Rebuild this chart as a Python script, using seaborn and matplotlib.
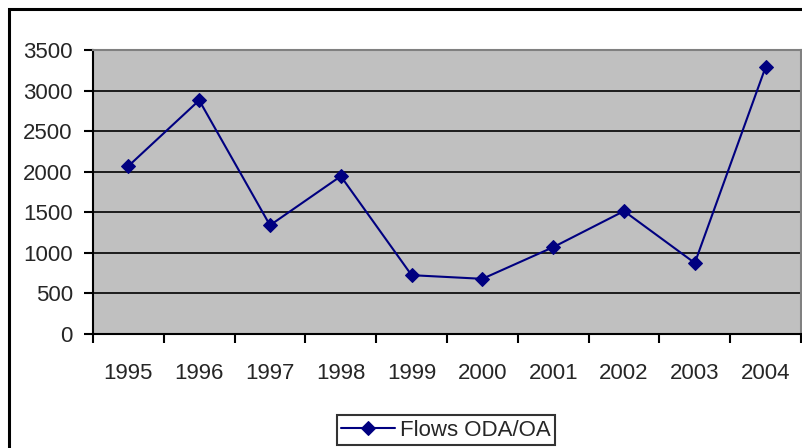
import numpy as np
import matplotlib.pyplot as plt
import matplotlib.patches as patches
import pandas as pd
import seaborn as sns

years = ["1995", "1996", "1997", "1998", "1999", "2000", "2001", "2002", "2003", "2004"]
flows = [2070, 2880, 1340, 1945, 725, 680, 1070, 1515, 875, 3290]
yticks = [0, 500, 1000, 1500, 2000, 2500, 3000, 3500]

sns.set_style("white")
plt.rcParams['font.family'] = ['Liberation Sans', 'DejaVu Sans']

df = pd.DataFrame({"year": years, "Flows ODA/OA": flows})

fig = plt.figure(figsize=(8.02, 4.48), dpi=100)
W, H = 802, 448
ax = fig.add_axes([93 / W, (H - 334) / H, (801 - 93) / W, (334 - 50) / H])
ax.set_facecolor("#c0c0c0")

# outer chart border (cut off at right and bottom)
fig.patches.append(patches.Rectangle((9 / W, -0.1), 1.2, (H - 9) / H + 0.1,
                                     transform=fig.transFigure, fill=False,
                                     edgecolor="black", linewidth=2.2))

for v in yticks[1:-1]:
    ax.axhline(v, color="black", linewidth=1.2, zorder=1)

sns.lineplot(data=df, x="year", y="Flows ODA/OA", ax=ax, color="#000080",
             linewidth=1.5, marker="D", markersize=7, markeredgecolor="#000080",
             label="Flows ODA/OA", zorder=3)

ax.set_xlim(-0.5, len(years) - 0.5)
ax.set_ylim(0, 3500)
ax.set_yticks(yticks)
ax.set_xticks(range(len(years)))
ax.set_xticklabels(years)
ax.set_xticks(np.arange(-0.5, len(years)), minor=True)
ax.set_xlabel("")
ax.set_ylabel("")

ax.tick_params(axis="y", which="major", direction="out", length=6.5, width=1.5,
               color="black", pad=8, labelsize=16, left=True)
ax.tick_params(axis="x", which="major", length=0, pad=21, labelsize=16)
ax.tick_params(axis="x", which="minor", direction="out", length=6.5, width=1.5,
               color="black", bottom=True)

ax.spines["left"].set_color("black")
ax.spines["left"].set_linewidth(1.5)
ax.spines["bottom"].set_color("black")
ax.spines["bottom"].set_linewidth(1.5)
ax.spines["top"].set_color("#808080")
ax.spines["top"].set_linewidth(1.5)
ax.spines["right"].set_color("#808080")
ax.spines["right"].set_linewidth(1.5)

leg = ax.legend(loc="lower center", bbox_to_anchor=(446 / W, 3 / H),
                bbox_transform=fig.transFigure, fancybox=False, frameon=True,
                fontsize=16, handlelength=2.4, borderpad=0.2, handletextpad=0.25,
                borderaxespad=0)
leg.get_frame().set_edgecolor("black")
leg.get_frame().set_linewidth(1.5)

fig.savefig("out.png", dpi=100)
